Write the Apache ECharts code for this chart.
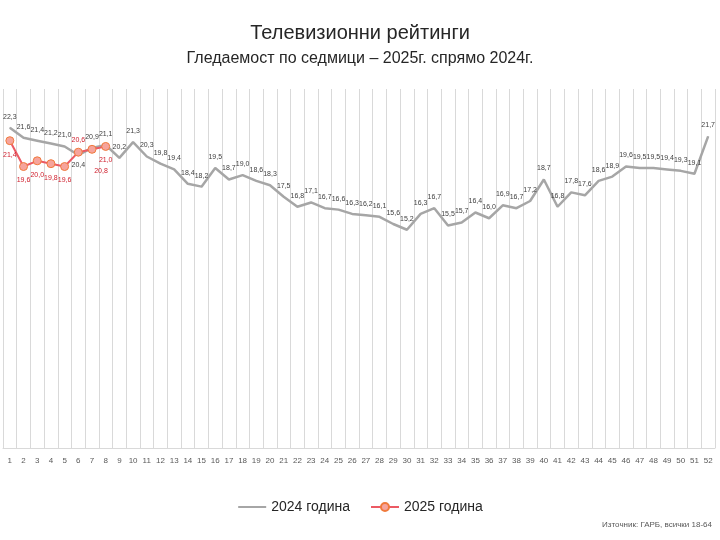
<!DOCTYPE html>
<html>
<head>
<meta charset="utf-8">
<script src="https://cdn.jsdelivr.net/npm/echarts@6/dist/echarts.min.js"></script>
<style>html,body{margin:0;padding:0;background:#fff}#c{width:720px;height:540px}</style>
</head>
<body>
<div id="c"></div>
<script>
const weeks = ['1','2','3','4','5','6','7','8','9','10','11','12','13','14','15','16','17','18','19','20','21','22','23','24','25','26','27','28','29','30','31','32','33','34','35','36','37','38','39','40','41','42','43','44','45','46','47','48','49','50','51','52'];
const series2024 = [22.3,21.6,21.4,21.2,21.0,20.4,20.9,21.1,20.2,21.3,20.3,19.8,19.4,18.4,18.2,19.5,18.7,19.0,18.6,18.3,17.5,16.8,17.1,16.7,16.6,16.3,16.2,16.1,15.6,15.2,16.3,16.7,15.5,15.7,16.4,16.0,16.9,16.7,17.2,18.7,16.8,17.8,17.6,18.6,18.9,19.6,19.5,19.5,19.4,19.3,19.1,21.7];
const series2025 = [21.4,19.6,20.0,19.8,19.6,20.6,20.8,21.0];
const name2024 = '2024 година';
const name2025 = '2025 година';
const titleText = 'Телевизионни рейтинги';
const subtitleText = 'Гледаемост по седмици – 2025г. спрямо 2024г.';
const sourceText = 'Източник: ГАРБ, всички 18-64';

const fmtv = v => v.toFixed(1).replace('.', ',');
const FONT = 'Liberation Sans, Arial, sans-serif';

const data2024 = series2024.map((v, i) => {
  const o = { value: v };
  if (i === 5) o.label = { position: 'bottom', distance: 6 };
  return o;
});
const data2025 = series2025.map((v, i) => {
  const o = { value: v };
  if (i === 5) o.label = { position: 'top', distance: 4 };
  if (i === 6) o.label = { position: 'bottom', offset: [9, 8] };
  return o;
});

const chart = echarts.init(document.getElementById('c'));
chart.setOption({
  animation: false,
  textStyle: { fontFamily: FONT },
  title: [
    { text: titleText, left: 'center', top: 18, textStyle: { fontSize: 20, fontWeight: 'normal', color: '#262626', fontFamily: FONT } },
    { text: subtitleText, left: 'center', top: 46, textStyle: { fontSize: 16, fontWeight: 'normal', color: '#262626', fontFamily: FONT } }
  ],
  grid: { left: 3, right: 5, top: 89, bottom: 92, containLabel: false },
  legend: {
    bottom: 21, left: 'center', itemWidth: 28, itemHeight: 10, itemGap: 20,
    textStyle: { fontSize: 14, color: '#262626' },
    data: [{ name: name2024, itemStyle: { opacity: 0 } }, { name: name2025 }]
  },
  xAxis: {
    type: 'category', data: weeks, boundaryGap: true,
    axisTick: { show: false },
    axisLine: { show: true, lineStyle: { color: '#D9D9D9', width: 1 } },
    splitLine: { show: true, interval: 0, lineStyle: { color: '#D9D9D9', width: 1 } },
    axisLabel: { interval: 0, fontSize: 8, color: '#595959', margin: 9 }
  },
  yAxis: { type: 'value', min: 0, max: 25, show: false, splitLine: { show: false } },
  series: [
    {
      name: name2024, type: 'line', data: data2024, symbol: 'circle', symbolSize: 1, showSymbol: true, z: 2,
      lineStyle: { color: '#A6A6A6', width: 2.5 }, itemStyle: { color: '#A6A6A6' },
      label: { show: true, position: 'top', distance: 7, fontSize: 7, color: '#404040', formatter: p => fmtv(p.value) },
      labelLayout: { hideOverlap: false }
    },
    {
      name: name2025, type: 'line', data: data2025, symbol: 'circle', symbolSize: 8, z: 3,
      lineStyle: { color: '#EC5A64', width: 2 },
      itemStyle: { color: '#F6A49C', borderColor: '#F07A3C', borderWidth: 1 },
      label: { show: true, position: 'bottom', distance: 6, fontSize: 7, color: '#D0202E', formatter: p => fmtv(p.value) }
    }
  ],
  graphic: [
    { type: 'text', right: 8, top: 521, style: { text: sourceText, fontSize: 8, fill: '#595959', fontFamily: FONT } }
  ]
});
</script>
</body>
</html>
